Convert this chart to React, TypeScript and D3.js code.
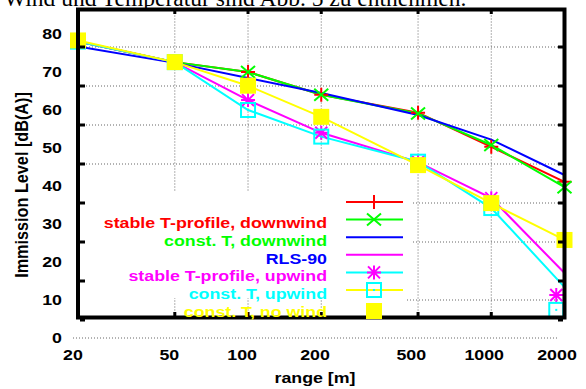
import React from "react";
import * as d3 from "d3";

// distances [m]
const ranges = [20, 50, 100, 200, 500, 1000, 2000];
// the last upwind markers sit a bit left of 2000 in the original
const upMarkRanges = [20, 50, 100, 200, 500, 1000, 1850];

const stableDown = [78.0, 72.6, 70.0, 64.0, 59.3, 50.3, 41.1];
const constDown = [78.0, 72.6, 70.0, 64.0, 59.1, 50.8, 39.7];
const rls90 = [76.7, 72.4, 68.4, 64.5, 58.7, 52.2, 42.9];
const stableUp = [78.0, 72.6, 62.6, 54.0, 46.3, 36.8, 17.1];
const constUp = [78.0, 72.6, 60.0, 53.0, 46.4, 34.2, 13.4];
const noWind = [78.3, 72.6, 66.4, 58.2, 45.5, 35.5, 25.8];
const stableUpMarks = [78.0, 72.6, 62.6, 54.0, 46.3, 36.8, 11.3];
const constUpMarks = [78.0, 72.6, 60.0, 53.0, 46.4, 34.2, 7.4];

const yTicks = [0, 10, 20, 30, 40, 50, 60, 70, 80];
const xTicks = [20, 50, 100, 200, 500, 1000, 2000];
const gridValues = [20, 30, 40, 50, 60, 70];
const xGridValues = [50, 100, 200, 500, 1000];

const legendLabels = [
    "stable T-profile, downwind",
    "const. T, downwind",
    "RLS-90",
    "stable T-profile, upwind",
    "const. T, upwind",
    "const. T, no wind",
];
const colors = ["#ff0000", "#00ff00", "#0000ff", "#ff00ff", "#00ffff", "#ffff00"];

const W = 586;
const H = 389;
const SX = 1.27; // the original text is stretched sideways

const x = d3.scaleLog().domain([20, 2000]).range([78, 564.5]);
const xLab = d3.scaleLog().domain([20, 2000]).range([73, 557]);
const y = d3.scaleLinear().domain([0, 80]).range([338, 34]);
const frameY = d3.scaleLinear().domain([0, 80]).range([320, 8]);

const font = "'Liberation Sans', Arial, sans-serif";

const Txt = ({ x0, y0, anchor = "start", fill = "#000", children }: any) => (
    <text
        transform={`translate(${x0},${y0}) scale(${SX},1)`}
        textAnchor={anchor}
        fill={fill}
        fontFamily={font}
        fontWeight="bold"
        fontSize={14}
    >
        {children}
    </text>
);

const Plus = ({ cx, cy, c }: any) => (
    <path d={`M${cx - 7},${cy}H${cx + 7}M${cx},${cy - 7}V${cy + 7}`} stroke={c} strokeWidth={2} />
);
const Cross = ({ cx, cy, c }: any) => (
    <path d={`M${cx - 7},${cy - 6}L${cx + 7},${cy + 6}M${cx - 7},${cy + 6}L${cx + 7},${cy - 6}`} stroke={c} strokeWidth={2} />
);
const Star = ({ cx, cy, c }: any) => (
    <path
        d={`M${cx - 7},${cy}H${cx + 7}M${cx},${cy - 7}V${cy + 7}M${cx - 6},${cy - 6}L${cx + 6},${cy + 6}M${cx - 6},${cy + 6}L${cx + 6},${cy - 6}`}
        stroke={c}
        strokeWidth={2}
    />
);
const Box = ({ cx, cy, c }: any) => (
    <g>
        <rect x={cx - 7} y={cy - 7} width={14} height={14} fill="none" stroke={c} strokeWidth={2} />
        <rect x={cx - 1} y={cy - 1} width={2} height={2} fill={c} />
    </g>
);
const FSquare = ({ cx, cy, c }: any) => <rect x={cx - 8} y={cy - 8} width={16} height={16} fill={c} />;

const App: React.FC = () => {
    const line = d3
        .line<number>()
        .x((_, i) => x(ranges[i]))
        .y((d) => y(d));
    const series = [stableDown, constDown, rls90, stableUp, constUp, noWind];
    const grid = { stroke: "#666", strokeWidth: 1, strokeDasharray: "1,2" };
    const left = 80;
    const right = 562;
    const top = 9.5;
    const bottom = 317.5;

    return (
        <div style={{ position: "absolute", left: 0, top: 0 }}>
            <svg width={W} height={H} style={{ display: "block", background: "#fff" }}>
                {/* text of the page above the figure */}
                <text x={4} y={6} fontFamily="'Liberation Serif', 'Times New Roman', serif" fontSize={23.5}>
                    Wind und Temperatur sind Abb. 5 zu entnehmen.
                </text>

                {/* grid */}
                {gridValues.map((v) => (
                    <line key={"h" + v} x1={left} x2={right} y1={frameY(v)} y2={frameY(v)} {...grid} />
                ))}
                {xGridValues.map((v) => (
                    <line key={"v" + v} x1={x(v)} x2={x(v)} y1={top} y2={bottom - 4} {...grid} />
                ))}
                <line x1={xLab(20)} x2={xLab(2000)} y1={y(0)} y2={y(0)} {...grid} />
                <line x1={407} x2={right} y1={y(10)} y2={y(10)} {...grid} />

                {/* key area blanks the grid */}
                <rect x={left} y={192} width={332} height={106} fill="#fff" />

                {/* lines */}
                {series.map((s, i) => (
                    <path key={"l" + i} d={line(s) || ""} fill="none" stroke={colors[i]} strokeWidth={2} />
                ))}

                {/* markers */}
                {stableDown.map((v, i) => (
                    <Plus key={"p" + i} cx={x(ranges[i])} cy={y(v)} c={colors[0]} />
                ))}
                {constDown.map((v, i) => (
                    <Cross key={"c" + i} cx={x(ranges[i])} cy={y(v)} c={colors[1]} />
                ))}
                {stableUpMarks.map((v, i) => (
                    <Star key={"s" + i} cx={x(upMarkRanges[i])} cy={y(v)} c={colors[3]} />
                ))}
                {constUpMarks.map((v, i) => (
                    <Box key={"b" + i} cx={x(upMarkRanges[i])} cy={y(v)} c={colors[4]} />
                ))}
                {noWind.map((v, i) => (
                    <FSquare key={"q" + i} cx={x(ranges[i])} cy={y(v)} c={colors[5]} />
                ))}

                {/* frame */}
                <path
                    d={`M78,${top}H${564.5}V${bottom}H78Z`}
                    fill="none"
                    stroke="#000"
                    strokeWidth={4}
                />
                {/* axis ticks */}
                {yTicks.slice(0, 8).map((v) => (
                    <g key={"t" + v}>
                        <rect x={80} y={frameY(v) - 1.5} width={5} height={3} fill="#000" />
                        <rect x={558} y={frameY(v) - 1.5} width={5} height={3} fill="#000" />
                    </g>
                ))}
                {xGridValues.map((v) => (
                    <g key={"xt" + v}>
                        <rect x={x(v) - 1.5} y={11} width={3} height={3} fill="#000" />
                        <rect x={x(v) - 1.5} y={312} width={3} height={4} fill="#000" />
                    </g>
                ))}

                {/* tick labels */}
                {yTicks.map((v) => (
                    <Txt key={"yl" + v} x0={62} y0={y(v) + 5} anchor="end">
                        {v}
                    </Txt>
                ))}
                {xTicks.map((v) => (
                    <Txt key={"xl" + v} x0={xLab(v)} y0={360} anchor="middle">
                        {v}
                    </Txt>
                ))}

                {/* axis titles */}
                <text
                    transform={`translate(28,185) scale(${SX},1.16) rotate(-90)`}
                    textAnchor="middle"
                    fontFamily={font}
                    fontWeight="bold"
                    fontSize={14}
                >
                    Immission Level [dB(A)]
                </text>
                <Txt x0={315} y0={383} anchor="middle">
                    range [m]
                </Txt>

                {/* key */}
                {legendLabels.map((t, i) => (
                    <g key={"k" + i}>
                        <line x1={346} x2={403} y1={202 + 17.6 * i} y2={202 + 17.6 * i} stroke={colors[i]} strokeWidth={2} />
                        <Txt x0={327} y0={228 + 17.8 * i} anchor="end" fill={colors[i]}>
                            {t}
                        </Txt>
                    </g>
                ))}
                <Plus cx={374} cy={202} c={colors[0]} />
                <Cross cx={374} cy={219.6} c={colors[1]} />
                <Star cx={374} cy={272.4} c={colors[3]} />
                <Box cx={374} cy={290} c={colors[4]} />
                <FSquare cx={374} cy={311} c={colors[5]} />
            </svg>
        </div>
    );
};

export default App;
